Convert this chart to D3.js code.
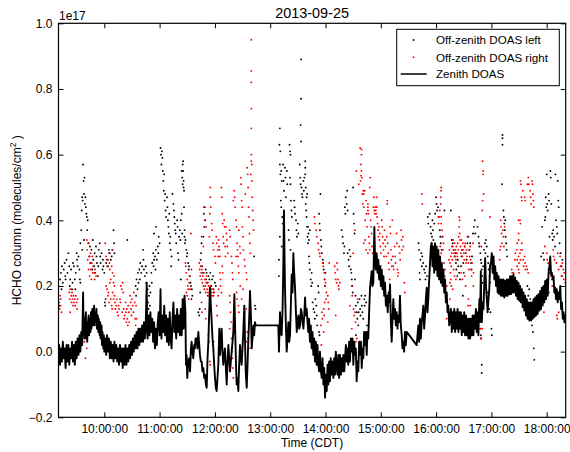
<!DOCTYPE html>
<html>
<head>
<meta charset="utf-8">
<script src="https://cdn.jsdelivr.net/npm/d3@7"></script>
<style>
  body { margin: 0; background: #fff; }
  svg { display: block; font-family: "Liberation Sans", Arial, sans-serif; }
</style>
</head>
<body>
<svg id="chart" width="570" height="452"></svg>
<script>
// ---- labels and ticks ----
const title = "2013-09-25";
const xLabel = "Time (CDT)";
const yLabelMain = "HCHO column (molecules/cm";
const yOffsetText = "1e17";
const yTicks = [-0.2, 0.0, 0.2, 0.4, 0.6, 0.8, 1.0];
const hourTicks = [10, 11, 12, 13, 14, 15, 16, 17, 18];
const seriesNames = ["Off-zenith DOAS left", "Off-zenith DOAS right", "Zenith DOAS"];

// ---- measurements: [minutes after 09:00 CDT, HCHO column in 1e15 molecules/cm²] ----
const zenith = [
  [10.3,-3],[11,2],[12,-4],[13,1],[14,-3],[15,3],[16,-2],[17,1],[18,-5],[19,2],[20,-3],[21,2],[22,-4],[23,1],[24,-2],[25,3],[26,-3],[27,2],[28,-4],[29,3],[30,-2],[31,4],[32,-1],[33,5],[34,0],[35,6],[36,2],
  [37,18],[37.5,5],[38,10],[38.5,4],[39,8],[40,12],[40.5,4],[41,9],[41.5,3],[42,8],[43,11],[43.5,5],[44,10],[45,6],[45.5,12],[46,7],[47,13],[47.5,8],[48,12],[49,14],[49.5,8],[50,12],[51,9],[51.5,13],[52,7],[53,11],[53.5,6],[54,10],[55,5],
  [55.5,9],[56,4],[57,8],[57.5,2],[58,6],[59,1],[59.5,5],[60,0],
  [61,4],[62,-1],[63,5],[64,0],[65,4],[66,-2],[67,3],[68,-2],[69,2],[70,-3],[71,3],[72,-2],[73,2],[74,-3],[75,1],[76,-4],[77,2],[78,-3],[79,1],[80,-5],[81,1],[82,-4],[83,2],[84,-4],[85,1],[86,-3],[87,2],[88,-2],[89,3],[90,-1],
  [91,4],[92,0],[93,5],[94,1],[95,6],[96,1],[97,7],[98,2],[99,7],[100,3],[101,8],[102,3],[103,9],[104,4],[105,9],[106,21],[106.5,6],[107,4],[108,11],[109,5],[110,12],[111,6],[112,10],[113,3],[114,9],[115,1],[116,7],[117,2],[118,9],[119,12],[120,5],
  [121,19],[121.5,8],[122,4],[123,11],[124,6],[125,14],[126,5],[127,11],[128,3],[129,10],[130,2],[131,12],[132,4],[133,1],[134,10],[135,15],[136,6],[137,11],[138,4],[139,13],[140,6],[141,11],[142,5],[143,13],[144,5],[145,16],[146,7],[147,17],
  [148,12],[148.6,-4],[149.3,-1],[150,-8],[151,-3],[152.2,-2],[153,-6],[154,1],[154.7,3],[155.5,0],[156.5,-2],[157.5,2],[158.3,1],[159,4],[160.2,4],[161,1],[162,6],[163,2],[163.8,-1],[164.7,-3],[165.6,-3],[166.5,-6],[167.5,-5],[168.4,-8],[169.3,-7],[170.2,-10],
  [171.1,-11],[172,-2],[172.9,3],[173.8,12],[174.7,19.5],[175.6,14],[176.5,9],[177.4,4],[178.3,1],[179.2,-4],[180.1,-8],[181,-11],[181.9,-12],[182.8,-8],[183.7,-4],[184.8,7],[185.5,-1],[186.4,3],[187.3,7],[188.2,0],[189.1,-4],[190,-1],[190.9,1],[191.9,-5],[192.8,-10],
  [193.7,-3],[194.6,2],[195.5,-2],[196.4,-6],[197.3,-3],[198.2,0],[199.1,3],[200,6],[201.1,17.5],[202.2,4],[202.9,-4],[203.6,-10],[204.5,-8],[205.4,-12],[206.3,-4],[207.2,2],[208.1,-2],[209,-4],[209.9,1],[210.8,6],[211.9,14],[212.6,4],[213.4,-6],[214.5,-11],
  [215.4,-4],[216.3,4],[217.2,10],[218.1,18.5],[219.2,10],[219.9,1],[220.8,4],[221.7,8],[222.6,5],[223.5,9],[224.3,8],
  [248.8,8],[249.5,0],[250.6,12],[251.5,6],[252.4,5],[253.5,14],[254.2,26],[254.9,43],[255.5,30],[256,20],[257,8],[257.9,0],[258.8,4],[259.7,9],[260.6,3],[261.5,5],[262.4,14],[263.3,23.5],[264.2,18],[265.1,30],[266,24],[267,19],[267.9,12],[268.8,6],
  [269.7,9],[270.6,11],[271.5,7],[272.4,8],[273.3,13],[274.2,12],[275.1,9],[276,7],[276.9,11],[277.8,16.5],[278.7,11],[279.6,13],[280.5,9],[281.3,6],[282.2,10],
  [283.1,3],[284,8],[285,1],[285.9,6],[286.8,-1],[287.7,4],[288.6,-3],[289.5,3],[290.4,-4],[291.3,2],[292.2,-4],[293.1,-6],[294,0],[295,-6],[295.9,-8],[296.8,-2],[297.7,-10],[298.6,-5],[299.5,-14],[300.4,-7],[301.3,-12],[302.2,-4],[303,-10],
  [303.9,-3],[304.8,-9],[305.7,-2],[306.7,-7],[307.6,-3],[308.5,-8],[309.4,-2],[310.3,-7],[311.2,0],[312.1,-5],[313,-7],[313.9,-1],[314.8,-8],[315.7,-1],[316.7,-7],[317.6,-2],[318.5,-6],[319.4,-1],[320.3,-6],[321.2,-2],[322.1,2],[323,-3],
  [323.8,1],[324.7,-4],[325.6,3],[326.5,-3],[327.5,4],[328.4,0],[329.3,4],[330.2,-4],[331.1,3],[332,-1],[332.9,1],[333.8,-9],[334.7,-3],[335.6,-6],[336.5,3],[337.4,-1],[338.4,3],[339.3,-5],[340.2,1],[341,-2],[341.9,6],[342.8,2],[343.7,6],
  [344.7,-1],[345.5,6],[346.4,4],[347.3,12],[348.3,19.5],[349.2,22],[350.1,24.5],[351,20],[351.9,21],
  [353,38],[353.7,29],[354.5,25],[355.5,30],[356.4,24],[357.3,28],[358.2,22],[359.1,26],[360,20],[361,25],[361.9,19],[362.8,23],[363.7,17],[364.6,21],[365.5,14],[366.4,17],[367.5,12],[368.5,18],[369.3,15],[370,20.5],[370.9,9],[371.8,3],
  [372.7,10],[373.6,16],[374.5,10],[375.4,13],[376.3,8],[377.2,12],[378.1,7],[379,11],[379.9,9],[380.8,17],[381.7,8],[382.7,5],[383.5,1],[384.4,3],[385.3,0],[386.2,6],[387.1,2],[388.1,6],
  [398.9,2],[399.8,5],[400.7,8],[401.6,3],[402.5,10],[403.4,4],[404.4,9],[405.2,11],[406.1,14],[407,7],[408,11],[408.9,16],[409.8,19.5],[410.6,12],[411.5,16],[412.5,22],[413.4,27],[414.3,32],[415.2,33],[416.1,26],[417,32],[417.9,24],
  [418.8,33],[419.7,25],[420.6,32],[421.5,23],[422.4,31],[423.3,22],[424.3,29],[425.2,21],[426.1,27],[427,20],[427.9,25],[428.8,18],[429.7,22],[430.6,15],[431.5,18],[432.4,12],[433.3,14],[434.2,8],[435.2,10],
  [436.1,13],[437,6],[437.9,12],[438.8,7],[439.7,13],[440.6,6],[441.5,12],[442.4,7],[443.3,13],[444.2,6],[445.1,12],[446,7],[446.9,12],[447.8,5],[448.7,11],[449.6,6],[450.5,12],[451.4,5],[452.4,11],[453.3,5],[454.2,10],[455.1,4],[456,10],
  [456.9,4],[457.8,10],[458.7,5],[459.6,11],[460.5,5],[461.4,11],[462.3,7],[463.2,13],[464.1,6],[465,12],[465.9,5],[466.5,12],[467,16],[467.7,9],[468.5,24.5],[469,14],[469.6,9],[470.5,15],[471.4,13],[472.3,21],[473.2,28.5],[474.1,20],[475,16],
  [475.9,12],[476.8,16],[477.7,19],[478.6,26.5],[479.5,27],[480.4,30],[481.3,24],[482.3,29],[483.2,22],[484.1,26],[485,20],[485.9,24],[486.8,18],[487.7,23],[488.6,17.5],[489.5,22],[490.4,17],[491.3,22],[492.2,17],[493.1,22],[494,16.5],
  [494.9,21.5],[495.8,17],[496.7,22],[497.6,17],[498.5,22],[499.4,17.5],[500.3,23],[501.2,17.5],[502.1,23],[503.1,18],[504,23.5],[504.9,18],[505.8,22.5],[506.7,17],[507.6,21.5],[508.5,16],[509.4,21],[510.3,15.5],[511.2,20],[512.1,15],
  [513,19],[513.9,13.5],[514.8,18],[515.7,12.5],[516.6,17],[517.5,11],[518.4,16],[519.3,10],[520.2,15],[521.1,9.5],[522.1,15],[523,9.5],[523.9,15],[524.8,10],[525.7,16],[526.6,10.5],[527.5,16.5],[528.4,11],[529.3,17],[530.2,11.5],[531.1,17.5],
  [532,12.5],[532.9,18.5],[533.8,13],[534.7,19.5],[535.6,14],[536.5,20],[537.4,15],[538.3,21.5],[539.2,16],[540.2,22],[541.1,17],[542,24],[542.9,26],[543.8,29],[544.7,23.5],[545.6,24],[546.5,22],[547.4,23],[548.3,18],[549.2,19.5],[550.1,16],
  [551,19],[551.9,15],[552.9,18],[553.8,16],[554.7,20],[555.6,13],[556.5,15],[557.4,10],[558.3,12],[559.2,9],[560.1,11],[560.6,8.5]
];

const offLeft = [
  [10,10],[11,14],[12,22],[13,24],[13.5,19],[14,26],[15,21],[16,25],[17,27],[17.5,23],[18,22],[19,28],[20,24],[21,30],[22,26],[22.5,20],[23,22],[24,25],[25,19],[25.5,21],[26,27],[27,26],[28,22],[28.5,19],[29,24],[30,30],[30.5,28],[31,26],[32,29],[33,25],[33.5,22],[34,21],
  [34,33],[35,37],[35.5,43],[36,47],[36.5,46],[37,57],[37.5,52],[38,48],[38.5,53],[39,45],[39.5,47],[40,44],[40.5,42],[41,41],[41.5,37],[42,40],[36,31],[38,34],
  [43,33],[44,29],[44.5,32],[45,27],[46,31],[47,25],[47.5,34],[48,28],[49,26],[49.5,30],[50,24],[51,32],[51.5,29],[52,27],[53,23],[53.5,26],[54,31],[55,33],[55.5,29],[56,27],[57,30],[58,25],[58.5,28],[59,26],[60,24],[60.5,15],[61,14],[61.5,16],
  [62,27],[63,28],[64,26],[65,31],[66,30],[67,28],[68,29],[69,31],[70,37],[70.5,33],[71,30],[85,34],
  [94,20],[94.5,17],[95,22],[96,19],[96.5,24],[97,21],[98,25],[98.5,22],[99,27],[100,24],[101,26],[102,31],[102.5,28],[103,25],[104,23],[105,26],[105.5,21],[106,24],[107,19],[107.5,15],[108,13],[108.5,17],[109,20],[109.5,14],[110,18],
  [111,24],[111.5,21],[112,27],[113,30],[113.5,26],[114,28],[115,29],[115.5,25],[116,31],[117,28],[118,32],[118.5,30],[114,36],[116,38],[119,35],[120,33],
  [121,62],[121.5,60],[122,57],[122.5,61],[123,59],[123.5,55],[124,52],[124.5,49],[125,54],[125.5,46],[126,48],[126.5,43],[127,41],[128,47],[128.5,44],[129,40],[129.5,38],[130,36],[130.5,42],[131,33],[131.5,35],[132,31],[132.5,26],[133,29],
  [134,48],[135,45],[135.5,43],[136,41],[136.5,39],[137,37],[137.5,36],[138,33],[139,40],[139.5,38],[140,30],[140.5,28],[141,35],[142,37],[142.5,34],[143,22],[144,55],[144.5,53],[145,51],[145.5,58],[146,50],[146.5,44],[147,37],[147.5,33],
  [145,57],[145.5,55],[146,52],[146.5,49],[144,42],[143,40],[144.5,36],[147,35],[148,34],[149,31],[149.5,29],[150,30],[151,27],[151.5,25],[152,26],[153,23],[153.5,21],[154,20],[155,19],[155.5,17],[154.5,16],
  [162,12],[163,11],[163.5,13],[164,18],[164.5,28],[165,30],[165.5,33],[166,26],[167,24],[167.5,35],[168,42],[168.5,38],[169,44],[169.5,40],[170,25],[170.5,22],[171,24],[172,21],[172.5,17],[173,23],[174,22],[175,24],[176,20],[177,22],[178,23],
  [178.5,19],[179,18],[180,21],[181,20],[222.5,29],[223.5,14],[224,13],
  [250.5,68],[250,63],[251,61],[250.5,57],[251,54],[252,55],[252.5,52],[251.5,46],[252,44],[253,41],[253.5,39],[254,57],[254.5,52],[255,49],[256,56],[256.5,53],[257,47],[258,55],[258.5,51],[250.5,35],[249.5,28],[249.5,23],[252.5,32],[260,37],
  [260.5,34],[261,63],[261.5,61],[262,60],[261.5,53],[262,51],[262.5,46],[263,43],[263.5,41],[262,31],[266,46],[266.5,44],[267,42],[268,40],[268.5,37],[269,35],[270,39],[270.5,36],[272,57],[272.5,53],[273,51],[273.5,89],[273.5,77],[273,69],
  [273.5,64],[274,50],[274.5,48],[275,47],[276,52],[276.5,49],[277,53],[278,54],[278.5,50],[279.5,47],[280,48],[281,38],[281.5,36],[282,34],[283,37],
  [278,58],[278,56],[278.5,45],[279,43],[279.5,41],[280,38],[280.5,35],[281,33],[282,29],[282.5,27],[283,25],[284,22],[284.5,20],[285,24],[285.5,21],
  [286,15],[287,13],[288,12],[288.5,10],[289,16],[290,14],[290.5,11],[291,8],[292,20],[292.5,18],[293,6],[293.5,5],[293,42],[293.5,39],[294,37],[294.5,48],[295,34],[295.5,32],[296,30],[297,28],[297.5,27],[298,25],[299,22],[299.5,20],[300,24],
  [317.5,37],[318.5,35],[319,33],[320,30],[320.5,32],[321,44],[321.5,42],[322,47],[323,45],[323.5,49],[324,43],[324,30],[325,28],[325.5,26],[326,31],[327,29],[327.5,25],[328,24],[328.5,22],[329,20],[329.5,18],[330,50],[330.5,42],[331,39],
  [331.5,36],[332,22],[332.5,17],[333,14],[333,5],[334,12],[334.5,10],[335,15],[335.5,8],[336,12],[337,16],[337.5,13],[338,11],[339,17],[339.5,14],[340,12],[341,10],[342,16],[342.5,14],[343,17],[344,15],[345,8],[345.5,6],
  [401,33],[401.5,31],[402,24],[402.5,22],[403,28],[404,30],[404.5,26],[405,29],[406,27],[407,25],[408,24],[408.5,22],[409,26],[410,23],[411,41],[411.5,39],[413,42],[414,38],[414.5,36],[415,33],[415.5,35],
  [416,40],[416.5,37],[417,34],[418,39],[419,42],[420,47],[420.5,45],[421,43],[422,44],[423,41],[424,37],[424.5,35],[425,33],[426,31],[427,35],[429,43],
  [436,43],[437,34],[437.5,32],[438,33],[439,31],[440,29],[441,30],[441.5,27],[442,25],[443,23],[443.5,28],[444,26],[445,24],[446,22],[447,26],[447.5,29],[448,31],[449,17],[449.5,27],[450,24],[451,32],[452,30],[453,28],[454,33],[455,35],
  [456,31],[457,33],[458,27],[458.5,25],[459,29],[460,36],[461,38],[462,40],[462.5,36],
  [465,38],[466,35],[466.5,33],[467,32],[468,30],[468.5,28],[469,27],[469.5,25],[470,23],[470.5,21],[471,26],[472,31],[473,33],[473.5,30],[474,34],[475,32],[476,29],[476.5,27],[477,25],[478,23],[478.5,21],[476,18],[476.5,15],[477.5,13],[479,12],
  [468,7],[468.5,5],[469,4],[469.5,-4],[469.5,-6.5],[480,7],[480.5,5],
  [492,66],[492,65],[492,63],[491.5,51],[493,43],[493.5,41],[494,39],[494.5,37],[495,40],[495.5,35],[496,33],[496.5,31],[497,29],
  [519,20],[520,17],[521,19],[522,16],[523,10],[524,8],[525,6],[526,1],[526.5,-2.5],[527,12],[528,15],
  [534,29],[535,38],[536,30],[537,28],[538,40],[538.5,41],[539,47],[539.5,44],[540,54],[540.5,45],[541,43],[542,48],[542.5,46],[543,35],[544,55],[544.5,53],[545,45],[546,36],[546.5,34],[547,37],[548,35],[549,32],[549.5,54],[550,40],[551,38],
  [551.5,36],[552,52],[552.5,46],[553,44],[554,33],[555,30],[556,26],[556.5,23],[557,28]
];

const offRight = [
  [10,18],[10.5,16],[11,15],[11.5,13],[12,17],[12.5,14],[13,16],[13.5,12],
  [22,18],[22.5,16],[23,19],[24,17],[24.5,15],[25,18],[25.5,16],[26,14],[26.5,17],[27,15],[28,16],[28.5,14],[29,17],[30,15],[30.5,13],[31,16],[23,12],
  [38,5],[38.5,3],[39,8],[39.5,-2],[40,11],[40.5,6],[41,1],[41,34],[41.5,31],[42,28],[42.5,33],[43,25],[43.5,29],[44,23],[44.5,27],[45,30],[45.5,25],[46,22],[46.5,27],[47,29],[47.5,24],[48,26],[49,24],[49.5,22],[50,25],[51,23],
  [61,33],[62,29],[63,26],[64,28],[65,30],[65.5,27],[66,25],[67,22],[68,26],[69,24],[70,21],[70.5,23],[71,20],[68.5,31],
  [62,20],[63,19],[64,17],[64.5,18],[65,15],[66,21],[67,16],[68,14],[68.5,13],[69,18],[70,16],[71,17],[71.5,15],[72,13],[73,14],[73.5,16],[74,12],[75,11],[75.5,14],[76,13],[77,16],[77.5,15],[78,20],[79,19],[79.5,12],[80,21],[80.5,18],
  [81,13],[81.5,10],[82,11],[83,15],[83.5,12],[84,9],[84.5,13],[85,10],[85.5,8],[86,14],[86.5,12],[87,9],[88,17],[88.5,15],[89,13],[89.5,11],[90,16],[91,14],[91.5,12],[92,18],[93,15],[93.5,10],[94,8],[94.5,14],[95,10],[95.5,5],
  [148,27],[148.5,26],[149,24],[150,22],[150.5,20],[151,19],[149,18],[150,17],[151.5,16],[152,21],[153,19],[154,36],[152.5,23],[154.5,25],
  [163,27],[163.5,25],[164,23],[164.5,26],[165,24],[165.5,22],[166,25],[166.5,21],[167,23],[167.5,20],[168,24],[168.5,19],[169,22],[169.5,20],[170,18],[170.5,21],[171,23],[171.5,19],[172,21],[172.5,18],[173,20],[173.5,17],[174,19],[174.5,18],
  [175,20],[175.5,17],[176,19],[176.5,18],[177,17],[178,19],[178.5,17],[179,18],[165.5,35],[167.5,32],[175,50],[175,47],[175.5,44],[174.5,42],[176.5,39],[177,37],[174,35],[178,33],[178.5,31],[180,29],[180.5,27],[181.5,35],[182,33],[183,31],
  [183.5,29],[184,34],[184.5,32],[185,31],[185.5,29],[187,50],[187.5,47],[188,42],[188.5,39],[189,35],[189.5,33],[190,40],[190.5,38],[191,32],[191.5,29],[192,38],[192.5,36],[193,34],[193.5,32],[194,30],[188,26],[188.5,24],[185.5,24],[186,22],
  [184,19],[183.5,17],[186,20],[187,18],[165.5,15],[166,12],[169.5,13],[170,10],[182,14],[182.5,11],[173,5],[173.5,3],[174.5,-3],[175,-4],[178.5,3],[168,44],[169,40],[170.5,38],
  [196,37],[196.5,35],[198,29],[198.5,27],[199,24],[199.5,22],[200,46],[201,49],[201.5,47],[202,44],[203,40],[203.5,38],[204,33],[204.5,31],[205,29],[205.5,26],[206,37],[207,32],[207.5,30],[208,53],[208.5,51],[209,46],[209.5,44],[210,38],
  [210.5,35],[211,31],[212,28],[212.5,26],[213,48],[214,24],[214.5,22],[215,56],[215.5,54],[216,50],[216.5,44],[217,41],[217.5,36],[218,33],[218.5,30],[219,54],[219.5,60],[220,52],[220.5,47],[221,43],[221.5,40],[222,37],[219.5,95],[219.5,85.5],
  [219.5,82],[219.5,74],[219.5,68],[219.5,58],[220,57],[196,17],[196.5,15],[197,12],[197.5,9],[196,7],[198,4],[198.5,0],[199,-2],[199.5,-5],[200,-8],[202,6],[203.5,18],[204,16],[205.5,14],[206,12],[207.5,20],[209,16],[210.5,19],[212,14],
  [212.5,12],[214,13],[215,6],[216,4],[214.5,3],[218,1],[203,29],[206,24],
  [288,41],[288.5,39],[290,37],[290.5,35],[292,33],[292.5,31],[293.5,30],[294,29],[297,27],[297.5,26],[298.5,24],[299,22],[299.5,20],[300,21],[301,18],[300.5,16],[299,15],[298,13],[298.5,11],[302.5,17],[303,15],[303.5,13],[304,27],[302.5,9],
  [296,12],[296.5,10],[295,8],[295.5,2],[298,6],
  [310,26],[310.5,24],[311,22],[312,21],[312.5,27],[313,25],[313.5,22],[314,20],[314.5,19],[315.5,21],[311,11],
  [333.5,55],[337.5,62],[338.5,57],[339.5,53],[336,51],[341,49],[341.5,48],[332,37],[330,30],[328.5,20],[329,17],[330.5,13],[331,11],[332,12],[332.5,9],[328.5,7],[334,4],[333,3],[326.5,14],[335,16],
  [340,48],[340.5,45],[341.5,44],[342.5,49],[343,40],[344,46],[344.5,42],[345,38],[346,44],[346.5,42],[347,35],[347.5,33],[348,31],[349,40],[349.5,38],[350,36],[350.5,32],[351,30],[352,44],[352.5,47],[353,43],[353.5,42],[354,44],[354.5,43],
  [355,42],[355.5,44],[356,41],[356.5,39],[357,37],[357.5,35],[358,38],[358.5,34],[359,36],[359.5,32],[360,30],[361,40],[361.5,38],[362,35],[362.5,33],[363,31],[363.5,29],[364,37],[364.5,34],[365,32],[366,29],[366.5,35],[367,46],[367,45],
  [367.5,33],[368,30],[368.5,27],[369,25],[369.5,22],[370,38],[370.5,36],[371,31],[371.5,28],[372,26],[372.5,40],[373,29],[373.5,26],[374,25],[375,32],[375.5,29],[376,27],[377,36],[377.5,33],[378,25],[378.5,23],[379,24],[380,32],[380.5,30],
  [381,28],[382,37],[382.5,34],[383,31],[384,35],[384.5,32],[385.5,21],[386,18],[370.5,14],[371,11],[372,7],[371.5,5],[360,26],[357,25],[350,23],[351,21],[341.5,33],[343,34],[344,31],[346,30],[353,33],[354.5,30],[356,27],
  [339,61.6],[339,60],[339,55],[338.5,53.6],[338,52],[348.5,53],[348,50],[346,45],[346,43],[355.5,47],[355.5,44],
  [404.5,48],[405,45],
  [425.5,50],[425.5,49],[425,47],[425,45],[424,43],[422.5,41],[422.5,39],[425.5,41],[425.5,39],[426.5,37],[426.5,35],[424.5,32],[428,33],[427.5,31],[425.5,30],[425.5,27],[428.5,27],[429.5,25],[429.5,23],[428,22],[428,20],[429.5,18],[431.5,20],
  [431.5,17],[433,14],[431.5,10],
  [434,28],[434.5,31],[435,27],[435.5,24],[436,29],[436.5,26],[437,30],[437.5,28],[438,32],[438.5,34],[439,31],[439.5,30],[440,33],[440.5,29],[441,31],[441.5,28],[442,32],[442.5,30],[443,29],[443.5,33],[444,31],[444.5,35],[445,38],[445,41],
  [445.5,40],[445.5,36],[446,34],[446.5,32],[447,30],[447.5,34],[448,31],[448.5,29],[449,33],[449.5,31],[450,30],[450.5,28],[451,32],[451.5,33],[452,30],[452.5,27],[453,31],[453.5,29],[454,35],[455,27],[455.5,25],[456,31],[456.5,29],[457,32],
  [457.5,28],[458,25],[458.5,23],[459,27],[460,33],[460.5,24],[436,22],[436.5,20],[435,21],[439,25],[440,23],[441.5,22],[435,16],[438,19],[447,24],[448.5,22],[451,23],[452,20],[454.5,14],[455,16],[457,14],[460.5,20],[464,10],[465.5,11],
  [470.5,58],[471,55],[471,54],[471.5,48],[470.5,46],[470,43],[469,32],[469.5,9],[470,7],[478.5,41],[468,7],[468.5,4],
  [490,40],[490.5,38],[491,36],[491.5,33],[490,32],[489.5,31],[492.5,37],[493,35],[493.5,32],[489,28],[494.5,38],
  [509.5,40],[511,40],[511.5,39],[509.5,36],[509.5,34],[508,33],[507.5,31],[506,30],[505.5,28],[508,28],[508,26],[509.5,29],[510,27],[511,30],[511.5,28],[512,31],[513,33],[513.5,31],[514.5,28],[515,26],[516,29],[516.5,27],[517,25],[518,26],
  [519,25],[520,24],[502,25],[502.5,24],[504,24],[509.5,25],[510,24],
  [511.5,52],[512,51],[512.5,47],[513,46],[514,49],[516,47],[516.5,46],[519,51],[520,53],[520.5,51],[522,49],[522.5,47],[523,45],[524,52],[524.5,51],[525,48],[525.5,46],[526,44],
  [538,32],[540,30],[540.5,28],[541.5,27],[542,25],[543,24],[544,26],[544.5,23],[545.5,22],[546,20],[547,31],[547.5,29],[548.5,28],[549,19],[550.5,27],[552,30],[553,25],[554.5,29],[555,26],[556,23],[557,27],[558,25],[558.5,22],[559,24],
  [560,21],[551,11],[551.5,10],[553,12],[537,12],[542.5,18]
];

// ---- layout ----
const plot = { left: 58.5, right: 565.7, top: 23.3, bottom: 417.3 };
const dayStart = new Date(2013, 8, 25, 9, 0, 0);
const toTime = m => new Date(dayStart.getTime() + m * 60000);
const toColumn = v => v / 100;   // 1e15 -> 1e17 units

const svg = d3.select("#chart");

const x = d3.scaleTime()
  .domain(d3.extent(zenith, d => toTime(d[0])))
  .range([plot.left, plot.right]);
const y = d3.scaleLinear()
  .domain([yTicks[0], yTicks[yTicks.length - 1]])
  .range([plot.bottom, plot.top]);

const hourDates = hourTicks.map(h => new Date(2013, 8, 25, h, 0, 0));

svg.append("defs").append("clipPath").attr("id", "plotClip")
  .append("rect")
  .attr("x", plot.left).attr("y", plot.top)
  .attr("width", plot.right - plot.left).attr("height", plot.bottom - plot.top);

const marks = svg.append("g").attr("clip-path", "url(#plotClip)");

// off-zenith scans (dots)
marks.append("g").selectAll("circle").data(offLeft).join("circle")
  .attr("cx", d => x(toTime(d[0])))
  .attr("cy", d => y(toColumn(d[1])))
  .attr("r", 0.95)
  .attr("fill", "#000");

marks.append("g").selectAll("circle").data(offRight).join("circle")
  .attr("cx", d => x(toTime(d[0])))
  .attr("cy", d => y(toColumn(d[1])))
  .attr("r", 0.95)
  .attr("fill", "#ff0000");

// zenith retrievals (line)
const line = d3.line()
  .x(d => x(toTime(d[0])))
  .y(d => y(toColumn(d[1])));
marks.append("path").datum(zenith)
  .attr("d", line)
  .attr("fill", "none")
  .attr("stroke", "#000")
  .attr("stroke-width", 1.9)
  .attr("stroke-linejoin", "round");

// ---- axes (inward ticks on all four sides) ----
const fontSize = 12;
const tickLen = 5;

svg.append("g")
  .attr("transform", `translate(0,${plot.bottom})`)
  .call(d3.axisBottom(x).tickValues(hourDates)
    .tickFormat(d3.timeFormat("%H:%M:%S"))
    .tickSizeInner(-tickLen).tickSizeOuter(0).tickPadding(7));
svg.append("g")
  .attr("transform", `translate(0,${plot.top})`)
  .call(d3.axisTop(x).tickValues(hourDates).tickFormat("")
    .tickSizeInner(-tickLen).tickSizeOuter(0));

svg.append("g")
  .attr("transform", `translate(${plot.left},0)`)
  .call(d3.axisLeft(y).tickValues(yTicks).tickFormat(d3.format(".1f"))
    .tickSizeInner(-tickLen).tickSizeOuter(0).tickPadding(6));
svg.append("g")
  .attr("transform", `translate(${plot.right},0)`)
  .call(d3.axisRight(y).tickValues(yTicks).tickFormat("")
    .tickSizeInner(-tickLen).tickSizeOuter(0));

svg.selectAll(".domain").remove();
svg.selectAll(".tick line").attr("stroke", "#000").attr("stroke-width", 1);
svg.selectAll(".tick text")
  .attr("font-size", fontSize)
  .attr("font-family", "'Liberation Sans', Arial, sans-serif")
  .attr("fill", "#000");

// frame
svg.append("rect")
  .attr("x", plot.left).attr("y", plot.top)
  .attr("width", plot.right - plot.left).attr("height", plot.bottom - plot.top)
  .attr("fill", "none").attr("stroke", "#000").attr("stroke-width", 1.2);

// ---- texts ----
svg.append("text")
  .attr("x", (plot.left + plot.right) / 2).attr("y", 18)
  .attr("text-anchor", "middle").attr("font-size", 14.4)
  .text(title);

svg.append("text")
  .attr("x", plot.left + 0.5).attr("y", 19.5)
  .attr("font-size", fontSize)
  .text(yOffsetText);

svg.append("text")
  .attr("x", (plot.left + plot.right) / 2).attr("y", 447)
  .attr("text-anchor", "middle").attr("font-size", fontSize)
  .text(xLabel);

const yl = svg.append("text")
  .attr("transform", `translate(21,${(plot.top + plot.bottom) / 2}) rotate(-90)`)
  .attr("text-anchor", "middle").attr("font-size", fontSize);
yl.append("tspan").text(yLabelMain);
yl.append("tspan").attr("dy", -5).attr("font-size", 8.5).text("2");
yl.append("tspan").attr("dy", 5).text(" )");

// ---- legend ----
const lg = svg.append("g");
lg.append("rect")
  .attr("x", 396.7).attr("y", 29.3).attr("width", 162.6).attr("height", 56.4)
  .attr("fill", "#fff").attr("stroke", "#000").attr("stroke-width", 1);
const rows = [40, 57.3, 74];
lg.append("circle").attr("cx", 413.5).attr("cy", rows[0]).attr("r", 0.95).attr("fill", "#000");
lg.append("circle").attr("cx", 413.5).attr("cy", rows[1]).attr("r", 0.95).attr("fill", "#ff0000");
lg.append("line").attr("x1", 400.7).attr("x2", 426.7).attr("y1", rows[2]).attr("y2", rows[2])
  .attr("stroke", "#000").attr("stroke-width", 1.5);
seriesNames.forEach((name, i) => {
  lg.append("text").attr("x", 436).attr("y", rows[i] + 4.3)
    .attr("font-size", 11.6).text(name);
});
</script>
</body>
</html>
